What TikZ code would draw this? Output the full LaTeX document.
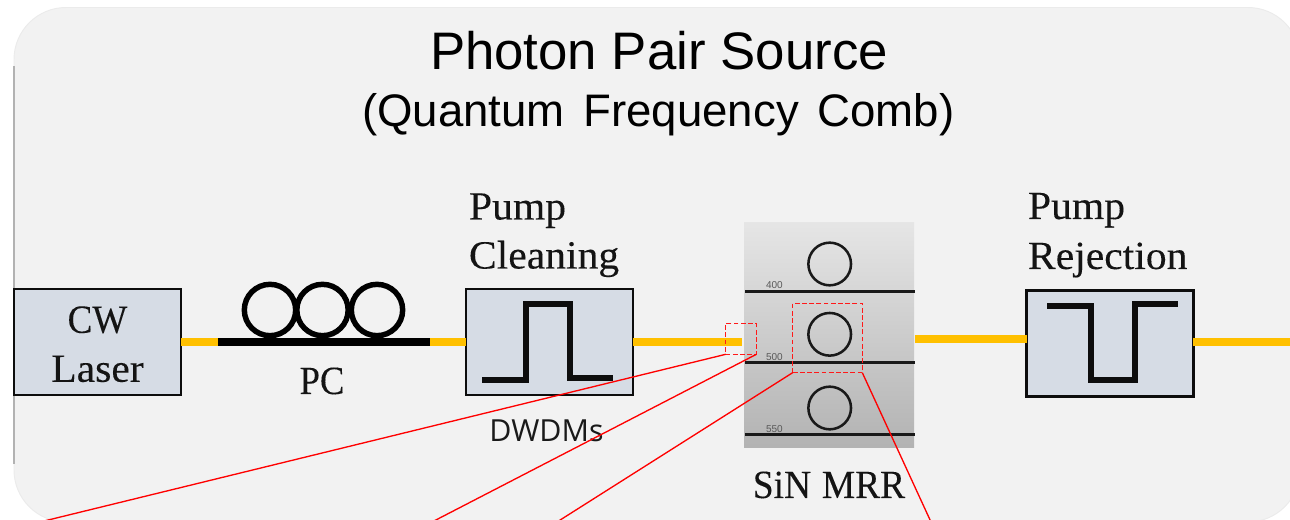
\documentclass[tikz,border=0pt]{standalone}
\usepackage{graphicx}
\usepackage{fontspec}
\setmainfont{Liberation Sans}
\newfontfamily\labelfont[FakeStretch=1.04,FakeBold=0.15]{Liberation Serif}
\newfontfamily\uifont{Open Sans}
\definecolor{panel}{HTML}{F2F2F2}
\definecolor{boxfill}{HTML}{D6DCE5}
\definecolor{fiber}{HTML}{FFC000}
\tikzset{
  x=0.75pt,y=-0.75pt,
  txt/.style={inner sep=0pt,outer sep=0pt,anchor=base west},
  serif/.style={font=\labelfont\fontsize{30}{36.75}\selectfont,text=black!92},
  devbox/.style={draw=black!95,line width=1.9pt,fill=boxfill,rectangle,minimum width=125pt,minimum height=79.5pt,inner sep=0pt,outer sep=0pt,align=center,serif},
  fiberline/.style={draw=fiber,line width=6pt},
  pcline/.style={draw=black,line width=6pt},
  loopring/.style={circle,draw=black,line width=4.1pt,minimum size=38.5pt,inner sep=0pt,outer sep=0pt},
  mrring/.style={circle,draw=black!90,line width=1.9pt,minimum size=32pt,inner sep=0pt,outer sep=0pt},
  bus/.style={draw=black!90,line width=1.9pt},
  pulse/.style={draw=black!95,line width=3.9pt,miter limit=10},
  zoombox/.style={draw=red!90!white,line width=1.15pt,dash pattern=on 3.6pt off 1.8pt,rectangle,inner sep=0pt,outer sep=0pt},
  zoomline/.style={draw=red,line width=1pt},
  tiny/.style={inner sep=0pt,outer sep=0pt,anchor=base west,font=\fontsize{7.5}{9}\selectfont,text=black!65},
}
\begin{document}
\begin{tikzpicture}
\useasboundingbox (0,0) rectangle (1290,520);
\clip (0,0) rectangle (1290,520);
% panel
\path[fill=panel,draw=black!8,line width=0.7pt,rounded corners=39pt] (14,7.5) rectangle (1300,522);
\draw[black!30,line width=0.9pt] (14,66) -- (14,464);
% titles
\node[txt,font=\fontsize{39.6}{45}\selectfont] (title) at (430,70) {Photon Pair Source};
\node[txt,font=\fontsize{34.2}{40}\selectfont] (subtitle) at (362,127) {(Quantum\hspace{14pt}Frequency\hspace{14pt}Comb)};
% mrr image
\shade[top color=black!10,bottom color=black!30] (744,223) rectangle (914,448);
\node[inner sep=0pt,outer sep=0pt,minimum width=127.5pt,minimum height=168.75pt] (mrr) at (829,335.5) {};
% anchors
\coordinate (pcin) at (218,342);
\coordinate (pcout) at (430,342);
\coordinate (mrrin) at (742,342);
\coordinate (mrrout) at (915,339.5);
\coordinate (end) at (1290,342);
% devices
\node[devbox] (cw) at (97.5,342) {\rule{0pt}{23.25pt}\scalebox{0.89}[1]{CW}\\Laser};
\node[devbox] (clean) at (549.5,342) {};
\node[devbox] (rej) at (1110,343.5) {};
% fibres
\draw[fiberline] (cw.east) -- (pcin);
\draw[fiberline] (pcout) -- (clean.west);
\draw[fiberline] (clean.east) -- (mrrin);
\draw[fiberline] (mrrout) -- (mrrout -| rej.west);
\draw[fiberline] (rej.east |- end) -- (end);
% PC
\node[loopring] (l1) at (270,310) {};
\node[loopring] (l2) at (322.5,310) {};
\node[loopring] (l3) at (377,310) {};
\draw[pcline] (pcin) -- (pcout);
\node[anchor=base,inner sep=0pt,serif] (pc) at (322,394) {\scalebox{0.88}[1]{PC}};
% pulses
\draw[pulse] (482,380) -- (526,380) -- (526,304) -- (570,304) -- (570,378) -- (613,378);
\draw[pulse] (1047,306) -- (1091,306) -- (1091,380) -- (1135,380) -- (1135,304) -- (1178,304);
% labels
\node[txt,serif] (p1) at (469,219.5) {Pump};
\node[txt,serif] (p2) at (469,268.5) {Cleaning};
\node[txt,serif] (r1) at (1028,219) {Pump};
\node[txt,serif] (r2) at (1028,269) {Rejection};
\node[anchor=base,inner sep=0pt,font=\uifont\fontsize{22.8}{27}\selectfont,text=black!90] (dwdm) at (546.5,441) {DWDMs};
\node[anchor=base,inner sep=0pt,serif] (sin) at (829,498) {\scalebox{0.9}[1]{SiN\hspace{9pt}MRR}};
% mrr details
\node[mrring] (m1) at (829.7,264) {};
\node[mrring] (m2) at (829.7,334.3) {};
\node[mrring] (m3) at (829.7,408) {};
\coordinate (b1a) at (745,291.7); \coordinate (b1b) at (914.5,291.7);
\coordinate (b2a) at (745,362.7); \coordinate (b2b) at (914.5,362.7);
\coordinate (b3a) at (745,434.7); \coordinate (b3b) at (914.5,434.7);
\draw[bus] (b1a) -- (b1b);
\draw[bus] (b2a) -- (b2b);
\draw[bus] (b3a) -- (b3b);
\node[tiny] (t400) at (766,289) {400};
\node[tiny] (t500) at (766,361) {500};
\node[tiny] (t550) at (766,433) {550};
% zoom boxes
\node[zoombox,minimum width=23pt,minimum height=23pt] (zleft) at (741,339) {};
\node[zoombox,minimum width=52.2pt,minimum height=52pt] (zmid) at (827.5,338) {};
\coordinate (e1) at (40,522);
\coordinate (e2) at (432,522);
\coordinate (e3) at (557,522);
\coordinate (e4) at (931,522);
\draw[zoomline] (zleft.south west) -- (e1);
\draw[zoomline] (zleft.south east) -- (e2);
\draw[zoomline] (zmid.south west) -- (e3);
\draw[zoomline] (zmid.south east) -- (e4);
\end{tikzpicture}
\end{document}
